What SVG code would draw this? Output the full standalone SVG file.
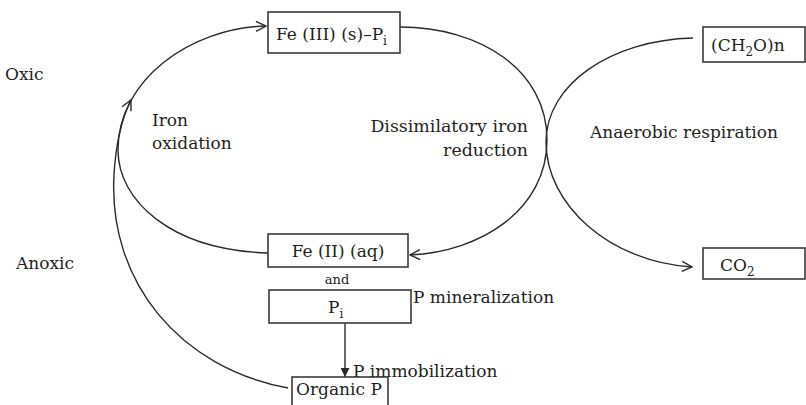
<svg xmlns="http://www.w3.org/2000/svg" width="806" height="405" viewBox="0 0 806 405">
<defs>
<style>
text{font-family:"DejaVu Serif","Liberation Serif",serif;font-size:17px;fill:#231f20}
.box{fill:#fff;stroke:#3a3a3a;stroke-width:1.6}
.con{fill:none;stroke:#2a2a2a;stroke-width:1.4}
.sub{font-size:12px}
</style>
<marker id="open" viewBox="0 0 12 12" refX="11" refY="6" markerWidth="12" markerHeight="12" markerUnits="userSpaceOnUse" orient="auto">
<path d="M1,1 L11,6 L1,11" fill="none" stroke="#2a2a2a" stroke-width="1.4"/>
</marker>
<marker id="tri" viewBox="0 0 10 10" refX="10" refY="5" markerWidth="9" markerHeight="9" markerUnits="userSpaceOnUse" orient="auto">
<path d="M0,0 L10,5 L0,10 Z" fill="#2a2a2a"/>
</marker>
</defs>
<rect width="806" height="405" fill="#fff"/>
<text x="5" y="80">Oxic</text>
<text x="16" y="269">Anoxic</text>
<text x="152" y="126">Iron</text>
<text x="152" y="149">oxidation</text>
<text x="528" y="132" text-anchor="end" style="font-size:17.4px">Dissimilatory iron</text>
<text x="528" y="156" text-anchor="end" style="font-size:17.4px">reduction</text>
<text x="590" y="138">Anaerobic respiration</text>
<text x="413" y="303">P mineralization</text>
<text x="353" y="377">P immobilization</text>
<g id="connectors">
<path class="con" d="M268 253 C170 250,118 200,118 150 C118 80,190 28,266 26" marker-end="url(#open)"/>
<path class="con" d="M400 27 C480 27,547 70,547 140 C547 210,480 252,410 255" marker-end="url(#open)"/>
<path class="con" d="M693 38 C610 40,546 85,546 142 C546 205,610 262,692 267" marker-end="url(#open)"/>
<path class="con" d="M288 388 C180 368,108 282,114 175 C116 140,122 118,131 100" marker-end="url(#open)"/>
<path class="con" d="M345 323 L345 377" marker-end="url(#tri)"/>
</g>
<g id="fe3">
<rect class="box" x="268" y="12" width="132" height="41"/>
<text x="276" y="40">Fe (III) (s)–P<tspan class="sub" dy="5">i</tspan></text>
</g>
<g id="ch2o">
<rect class="box" x="703" y="27" width="102" height="35"/>
<text x="711" y="51">(CH<tspan class="sub" dy="5">2</tspan><tspan dy="-5">O)n</tspan></text>
</g>
<g id="fe2">
<rect class="box" x="268" y="234" width="140" height="33"/>
<text x="338" y="257" text-anchor="middle">Fe (II) (aq)</text>
</g>
<g id="and">
<text x="337" y="284" text-anchor="middle" style="font-size:13px">and</text>
</g>
<g id="pi">
<rect class="box" x="269" y="290" width="142" height="33"/>
<text x="328" y="313">P<tspan class="sub" dy="5">i</tspan></text>
</g>
<g id="orgp">
<rect class="box" x="292" y="377" width="96" height="36"/>
<text x="296" y="395">Organic P</text>
</g>
<g id="co2">
<rect class="box" x="703" y="248" width="102" height="31"/>
<text x="720" y="271">CO<tspan class="sub" dy="5">2</tspan></text>
</g>
</svg>
